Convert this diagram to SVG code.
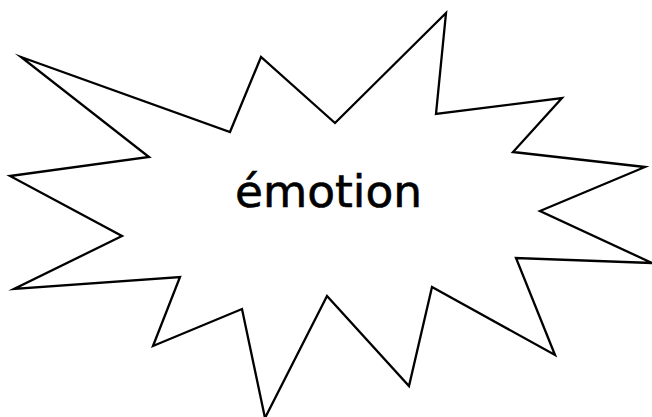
<svg xmlns="http://www.w3.org/2000/svg" width="652" height="417" viewBox="0 0 652 417">
<style>
.burst{fill:#fff;stroke:#000;stroke-width:2.3;stroke-linejoin:miter;stroke-miterlimit:20}
.lbl{font-family:"Comic Sans MS","DejaVu Sans",sans-serif;font-size:45px;fill:#000;stroke:#000;stroke-width:0.6}
</style>
<rect width="652" height="417" fill="#fff"/>
<g id="emotion">
<polygon class="burst" points="21,57 230,132 261,57 335,123 446,13 436,114 562,98 513,152 645,167 540,211 652,263 516,258 555,355 432,287 409,386 327,296 265,418 242,309 153,346 180,277 14,289 122,236 10,176 149,157"/>
<text class="lbl" x="235" y="207" textLength="187" lengthAdjust="spacingAndGlyphs">émotion</text>
</g>
</svg>
